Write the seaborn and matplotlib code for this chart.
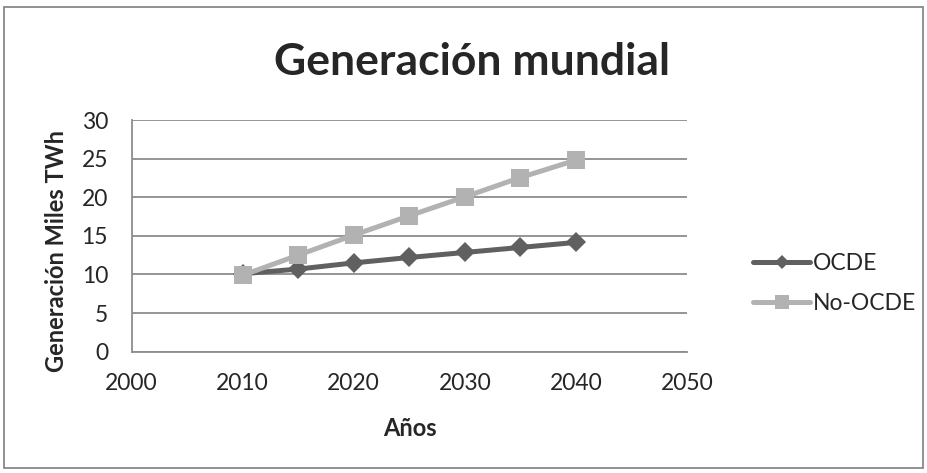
import matplotlib
matplotlib.use("Agg")
import matplotlib.pyplot as plt
import seaborn as sb
import pandas as pd
from matplotlib.patches import Rectangle

years = [2010, 2015, 2020, 2025, 2030, 2035, 2040]
ocde = [10.1, 10.7, 11.5, 12.2, 12.85, 13.5, 14.15]
no_ocde = [9.9, 12.5, 15.1, 17.6, 20.05, 22.55, 24.8]
series_names = ["OCDE", "No-OCDE"]
x_ticks = [2000, 2010, 2020, 2030, 2040, 2050]
y_ticks = [0, 5, 10, 15, 20, 25, 30]

df = pd.DataFrame({
    "year": years * 2,
    "value": ocde + no_ocde,
    "serie": [series_names[0]] * len(years) + [series_names[1]] * len(years),
})

sb.set_style("white")
plt.rcParams["font.family"] = ["Lato", "DejaVu Sans"]

fig = plt.figure(figsize = (9.27, 4.73), dpi = 100)
ax = fig.add_axes([0.142, 0.2564, 0.599, 0.4899])

palette = {"OCDE": "#606060", "No-OCDE": "#b2b2b2"}
sb.lineplot(data = df, x = "year", y = "value", hue = "serie", style = "serie",
            markers = {"OCDE": "D", "No-OCDE": "s"}, dashes = False,
            palette = palette, linewidth = 3.6, markersize = 12,
            markeredgewidth = 0, ax = ax, legend = True)

# diamond marker is drawn smaller than the square for the same size
ax.lines[0].set_markersize(10)
ax.lines[1].set_markersize(13)

ax.set_xlim(2000, 2050)
ax.set_ylim(0, 30)
ax.set_xticks(x_ticks)
ax.set_yticks(y_ticks)
ax.tick_params(axis = "both", length = 0, labelsize = 16.5)
ax.tick_params(axis = "y", pad = 17)
ax.tick_params(axis = "x", pad = 15)
ax.yaxis.grid(True, color = "#8c8c8c", linewidth = 1.3)
ax.set_axisbelow(True)
for side in ["top", "right"]:
    ax.spines[side].set_visible(False)
for side in ["left", "bottom"]:
    ax.spines[side].set_color("#8c8c8c")
    ax.spines[side].set_linewidth(1.3)

ax.set_xlabel("Años", fontsize = 17, fontweight = "bold", va = "baseline")
ax.xaxis.set_label_coords(0.501, -0.364)
ax.set_ylabel("Generación Miles TWh", fontsize = 17, fontweight = "bold", va = "center")
ax.yaxis.set_label_coords(-0.135, 0.435)

fig.text(0.509, 0.8414, "Generación mundial", ha = "center", va = "baseline",
         fontsize = 32, fontweight = "bold")

handles, labels = ax.get_legend_handles_labels()
leg = ax.legend(handles, labels, loc = "center left", bbox_to_anchor = (0.8123, 0.4006),
                bbox_transform = fig.transFigure, frameon = False, fontsize = 16.5,
                handlelength = 2.5, handletextpad = 0.13, labelspacing = 0.8,
                borderpad = 0, borderaxespad = 0)
for h, ms in zip(leg.legend_handles, [7, 9.5]):
    h.set_markersize(ms)
    h.set_linewidth(3.6)

fig.patches.append(Rectangle((0.004, 0.01), 0.992, 0.976, transform = fig.transFigure,
                             fill = False, edgecolor = "#888888", linewidth = 1.3))

fig.savefig("out.png", dpi = 100)
